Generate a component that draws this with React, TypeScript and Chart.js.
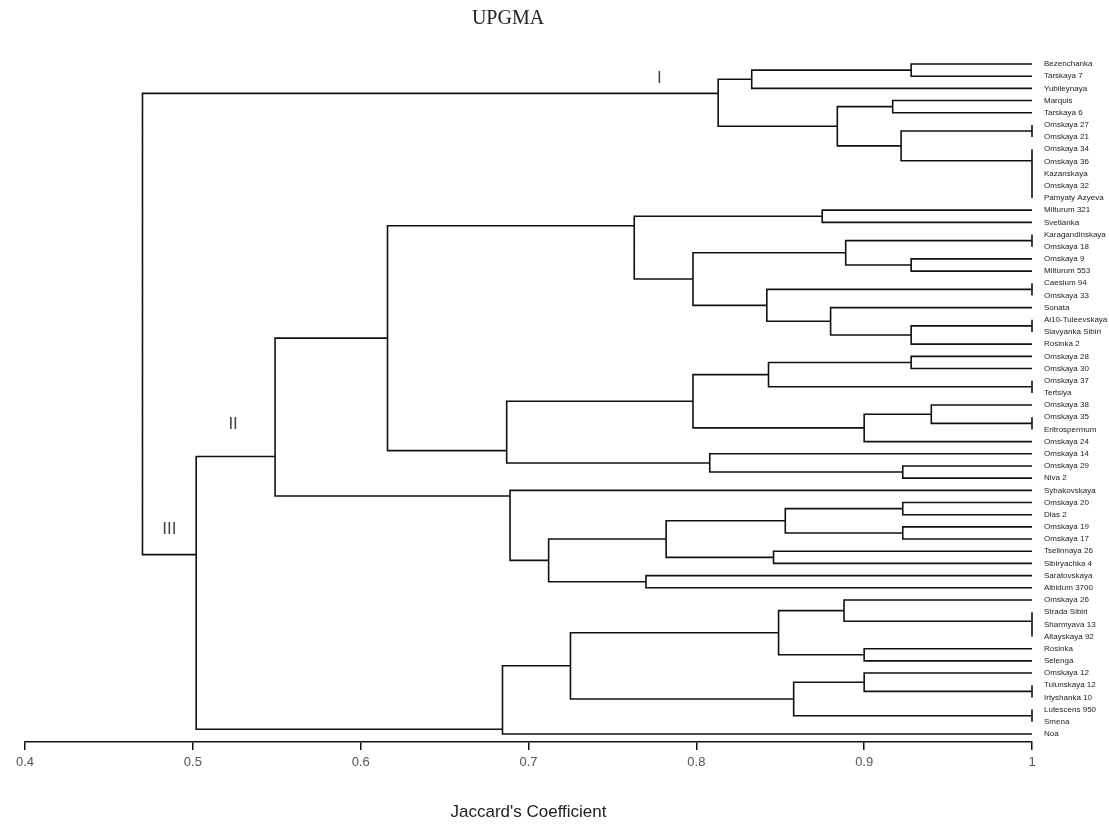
import React, { useEffect, useRef } from "react";
import { Chart, registerables } from "chart.js";
Chart.register(...registerables);

const leafNames = [
  "Bezenchanka", "Tarskaya 7", "Yubileynaya", "Marquis", "Tarskaya 6", "Omskaya 27", "Omskaya 21",
  "Omskaya 34", "Omskaya 36", "Kazanskaya", "Omskaya 32", "Pamyaty Azyeva", "Milturum 321", "Svetlanka",
  "Karagandinskaya", "Omskaya 18", "Omskaya 9", "Milturum 553", "Caesium 94", "Omskaya 33", "Sonata",
  "Ai10-Tuleevskaya", "Slavyanka Sibiri", "Rosinka 2", "Omskaya 28", "Omskaya 30", "Omskaya 37", "Tertsiya",
  "Omskaya 38", "Omskaya 35", "Eritrospermum", "Omskaya 24", "Omskaya 14", "Omskaya 29", "Niva 2",
  "Sybakovskaya", "Omskaya 20", "Dias 2", "Omskaya 19", "Omskaya 17", "Tselinnaya 26", "Sibiryachka 4",
  "Saratovskaya", "Albidum 3700", "Omskaya 26", "Strada Sibiri", "Sharmyava 13", "Altayskaya 92", "Rosinka",
  "Selenga", "Omskaya 12", "Tulunskaya 12", "Irtyshanka 10", "Lutescens 950", "Smena", "Noa",
];

// merges: [childA, childB, similarity]; child >= 0 is a leaf index, child < 0 is merge number (-child - 1)
const merges: [number, number, number][] = [
  [0, 1, 0.928], [-1, 2, 0.833], [3, 4, 0.917], [5, 6, 1], [10, 11, 1], [9, -5, 1], [8, -6, 1], [7, -7, 1],
  [-4, -8, 0.922], [-3, -9, 0.884], [-2, -10, 0.813],
  [12, 13, 0.875], [14, 15, 1], [16, 17, 0.928], [-13, -14, 0.889], [18, 19, 1], [21, 22, 1], [-17, 23, 0.928],
  [20, -18, 0.88], [-16, -19, 0.842], [-15, -20, 0.798], [-12, -21, 0.763],
  [24, 25, 0.928], [26, 27, 1], [-23, -24, 0.843], [29, 30, 1], [28, -26, 0.94], [-27, 31, 0.9],
  [-25, -28, 0.798], [33, 34, 0.923], [32, -30, 0.808], [-29, -31, 0.687], [-22, -32, 0.616],
  [36, 37, 0.923], [38, 39, 0.923], [-34, -35, 0.853], [40, 41, 0.846], [-36, -37, 0.782], [42, 43, 0.77],
  [-38, -39, 0.712], [35, -40, 0.689], [-33, -41, 0.549],
  [46, 47, 1], [45, -43, 1], [44, -44, 0.888], [48, 49, 0.9], [-45, -46, 0.849], [51, 52, 1], [50, -48, 0.9],
  [53, 54, 1], [-49, -50, 0.858], [-47, -51, 0.725], [-52, 55, 0.6845], [-42, -53, 0.502], [-11, -54, 0.47],
];

// where the parent branch meets a node's vertical bar (0 = child A, 1 = child B); default midpoint
const nodeAttach: Record<number, number> = { 10: 0.3, 21: 0.15, 31: 0.8, 40: 0.08, 41: 0.75, 52: 0.93, 53: 0.36 };

const xTicks = [0.4, 0.5, 0.6, 0.7, 0.8, 0.9, 1];
const clusterNames = ["I", "II", "III"];
const clusterX = [0.778, 0.524, 0.486];
const clusterY = [1.2, 29.6, 38.2];

function buildSegments() {
  const nodeY: number[] = [];
  const nodeH: number[] = [];
  const pts: { x: number; y: number | null }[] = [];
  const pos = (c: number) => (c >= 0 ? { y: c, h: 1 } : { y: nodeY[-c - 1], h: nodeH[-c - 1] });
  merges.forEach(([a, b, h], k) => {
    const pa = pos(a);
    const pb = pos(b);
    const f = nodeAttach[k] ?? 0.5;
    nodeY[k] = pa.y + f * (pb.y - pa.y);
    nodeH[k] = h;
    pts.push({ x: pa.h, y: pa.y }, { x: h, y: pa.y }, { x: h, y: pb.y }, { x: pb.h, y: pb.y }, { x: h, y: null });
  });
  return pts;
}

export default function App() {
  const ref = useRef<HTMLCanvasElement>(null);
  useEffect(() => {
    document.body.style.margin = "0";
    const labelsPlugin = {
      id: "labels",
      afterDraw(chart: any) {
        const ctx = chart.ctx;
        const xs = chart.scales.x;
        const ys = chart.scales.y;
        ctx.save();
        ctx.fillStyle = "#222";
        ctx.textAlign = "center";
        ctx.textBaseline = "middle";
        ctx.font = "20px 'Liberation Serif'";
        ctx.fillText("UPGMA", 508, 19);
        ctx.fillStyle = "#444";
        ctx.font = "17px 'Liberation Sans'";
        clusterNames.forEach((t, i) => {
          ctx.fillText(t, xs.getPixelForValue(clusterX[i]), ys.getPixelForValue(clusterY[i]));
        });
        ctx.restore();
      },
    };
    const chart = new Chart(ref.current!, {
      type: "scatter",
      data: {
        datasets: [
          {
            data: buildSegments() as any,
            showLine: true,
            spanGaps: false,
            borderColor: "#111",
            borderWidth: 1.6,
            pointRadius: 0,
            clip: false as any,
          },
        ],
      },
      options: {
        responsive: false,
        animation: false,
        layout: { padding: { left: 25, top: 40, right: 0, bottom: 0 } },
        plugins: { legend: { display: false }, tooltip: { enabled: false } },
        scales: {
          x: {
            type: "linear",
            min: 0.4,
            max: 1,
            afterBuildTicks: (s: any) => {
              s.ticks = xTicks.map((v) => ({ value: v }));
            },
            afterFit: (s: any) => {
              s.height = 88;
            },
            ticks: {
              callback: (v: any) => String(+Number(v).toFixed(1)),
              font: { family: "'Liberation Sans'", size: 13 },
              color: "#555",
              padding: 5,
            },
            grid: { drawOnChartArea: false, drawTicks: true, tickLength: 8, color: "#111", lineWidth: 1.5 },
            border: { display: true, color: "#111", width: 1.5 },
            title: {
              display: true,
              text: "Jaccard's Coefficient",
              font: { family: "'Liberation Sans'", size: 17 },
              color: "#222",
              padding: { top: 4, bottom: 7 },
            },
          },
          y: {
            type: "linear",
            position: "right",
            reverse: true,
            min: -1.97,
            max: 55.66,
            afterBuildTicks: (s: any) => {
              s.ticks = leafNames.map((_, i) => ({ value: i }));
            },
            afterFit: (s: any) => {
              s.width = 77;
            },
            ticks: {
              autoSkip: false,
              callback: (v: any) => leafNames[v as number] ?? "",
              font: { family: "'Liberation Sans'", size: 8 },
              color: "#222",
              padding: 4,
            },
            grid: { display: false },
            border: { display: false },
          },
        },
      },
      plugins: [labelsPlugin],
    });
    return () => chart.destroy();
  }, []);
  return (
    <div style={{ width: 1109, height: 830 }}>
      <canvas ref={ref} width={1109} height={830} />
    </div>
  );
}
